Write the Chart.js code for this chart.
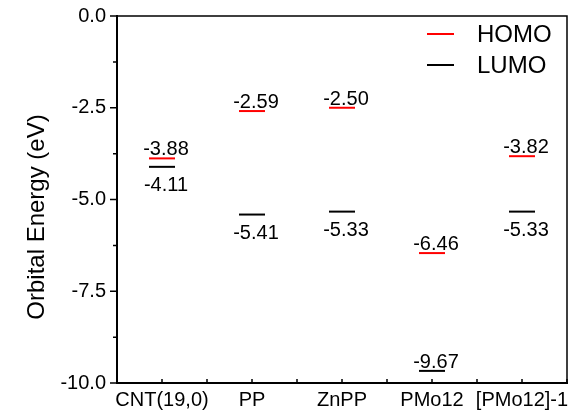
<!DOCTYPE html>
<html lang="en">
<head>
<meta charset="UTF-8"/>
<title>Orbital Energy</title>
<script src="https://cdn.jsdelivr.net/npm/chart.js@4.4.7/dist/chart.umd.min.js"></script>
<style>
*{margin:0;padding:0}
body{background:#fff;width:582px;height:410px;overflow:hidden}
canvas{display:block}
</style>
</head>
<body>
<canvas id="chart" width="582" height="410"></canvas>
<script>
const categories = ['CNT(19,0)', 'PP', 'ZnPP', 'PMo12', '[PMo12]-1'];
const homo = [-3.88, -2.59, -2.50, -6.46, -3.82];
const lumo = [-4.11, -5.41, -5.33, -9.67, -5.33];
const yMajor = [0, -2.5, -5, -7.5, -10];
const yMinor = [-1.25, -3.75, -6.25, -8.75];

const FONT = 'Arial, "Liberation Sans", sans-serif';
Chart.defaults.color = '#000';
Chart.defaults.font.family = FONT;

// value labels next to each level, frame, tick marks, legend and y title
const extras = {
  id: 'extras',
  afterDatasetsDraw(chart) {
    const { ctx, chartArea: a, scales: { x, y } } = chart;
    ctx.save();
    ctx.font = '20px ' + FONT;
    ctx.fillStyle = '#000';
    ctx.textAlign = 'center';
    ctx.textBaseline = 'alphabetic';
    chart.data.datasets.forEach((ds, di) => {
      chart.getDatasetMeta(di).data.forEach((pt, i) => {
        const txt = ds.data[i].y.toFixed(2);
        let ty = pt.y - 3;
        if (ds.label === 'LUMO' && pt.y + 24 <= a.bottom) ty = pt.y + 24;
        ctx.fillText(txt, pt.x + 4, ty);
      });
    });

    // top / right frame
    ctx.strokeStyle = '#000';
    ctx.lineWidth = 1.5;
    ctx.beginPath();
    ctx.moveTo(a.left, a.top); ctx.lineTo(a.right, a.top); ctx.lineTo(a.right, a.bottom);
    ctx.stroke();

    // y ticks (outward), x ticks (inward)
    ctx.beginPath();
    yMajor.forEach(v => { const p = y.getPixelForValue(v); ctx.moveTo(a.left - 7, p); ctx.lineTo(a.left, p); });
    yMinor.forEach(v => { const p = y.getPixelForValue(v); ctx.moveTo(a.left - 4, p); ctx.lineTo(a.left, p); });
    x.ticks.forEach(t => { const p = x.getPixelForValue(t.value); ctx.moveTo(p, a.bottom); ctx.lineTo(p, a.bottom - 4); });
    ctx.stroke();

    // legend
    ctx.font = '24px ' + FONT;
    ctx.textAlign = 'left';
    ctx.textBaseline = 'middle';
    ctx.lineWidth = 2;
    chart.data.datasets.forEach((ds, di) => {
      const ly = 34 + di * 31;
      ctx.strokeStyle = ds.borderColor;
      ctx.beginPath(); ctx.moveTo(427, ly); ctx.lineTo(454, ly); ctx.stroke();
      ctx.fillText(ds.label, 477, ly + 1);
    });

    // y axis title
    ctx.translate(37, 217);
    ctx.rotate(-Math.PI / 2);
    ctx.font = '24px ' + FONT;
    ctx.textAlign = 'center';
    ctx.fillText('Orbital Energy (eV)', 0, 0);
    ctx.restore();
  }
};

const level = (vals, color, label) => ({
  label,
  data: vals.map((v, i) => ({ x: i + 1, y: v })),
  borderColor: color,
  backgroundColor: color,
  pointStyle: 'line',
  pointRadius: 13,
  pointHoverRadius: 13,
  pointBorderWidth: 2,
  pointHoverBorderWidth: 2,
  showLine: false
});

const noPad = s => { s.paddingTop = 0; s.paddingBottom = 0; s.paddingLeft = 0; s.paddingRight = 0; };

new Chart(document.getElementById('chart'), {
  type: 'scatter',
  data: {
    datasets: [level(homo, '#ff0000', 'HOMO'), level(lumo, '#000000', 'LUMO')]
  },
  options: {
    responsive: false,
    animation: false,
    events: [],
    layout: { padding: { top: 16, right: 9, left: 0, bottom: 0 } },
    plugins: { legend: { display: false }, tooltip: { enabled: false } },
    scales: {
      x: {
        type: 'linear', min: 0.5, max: 5.5,
        afterFit: s => { s.height = 27; noPad(s); },
        grid: { display: false, drawTicks: false },
        border: { display: true, color: '#000', width: 2 },
        ticks: {
          stepSize: 0.5, autoSkip: false, maxRotation: 0, padding: 5,
          font: { size: 20 },
          callback: v => Number.isInteger(v) ? categories[v - 1] : ''
        }
      },
      y: {
        min: -10, max: 0,
        afterFit: s => { s.width = 117; noPad(s); },
        grid: { display: false, drawTicks: false },
        border: { display: true, color: '#000', width: 2 },
        ticks: {
          stepSize: 2.5, padding: 11,
          font: { size: 20 },
          callback: v => v.toFixed(1)
        }
      }
    }
  },
  plugins: [extras]
});
</script>
</body>
</html>
